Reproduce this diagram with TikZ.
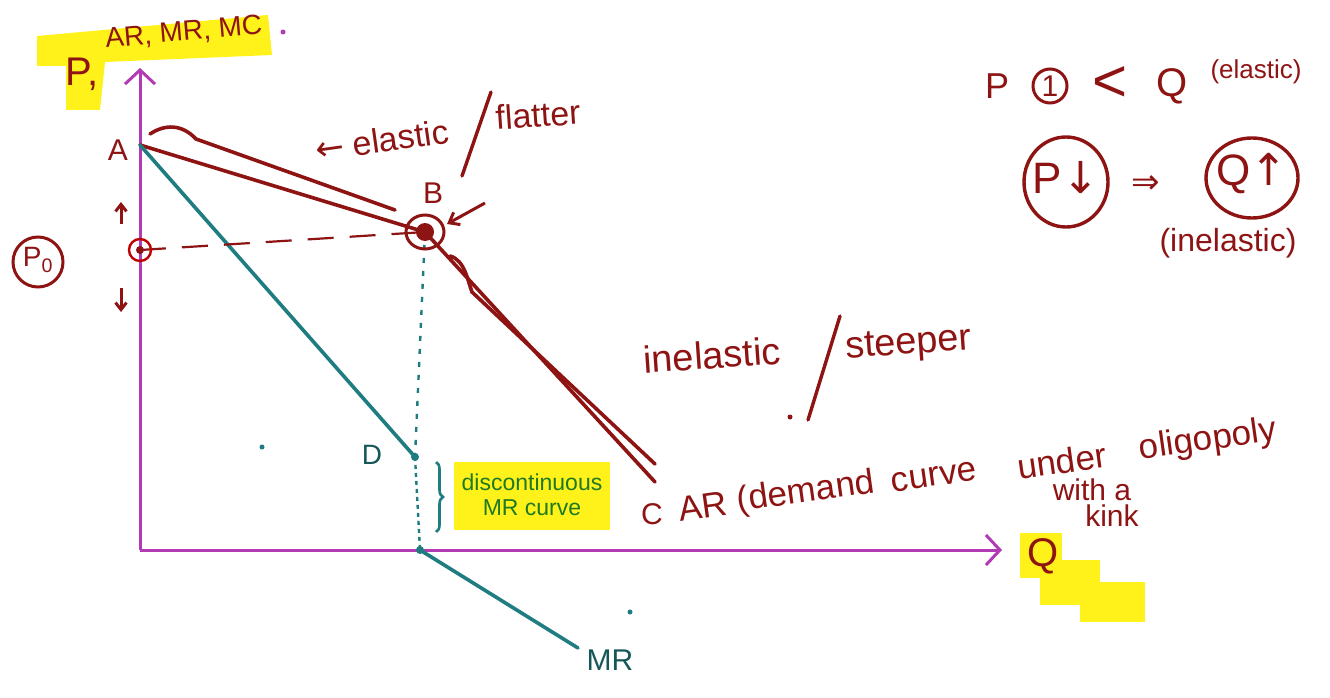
\documentclass[tikz,border=0pt]{standalone}
\usepackage{fontspec}
\setmainfont{Liberation Sans}
\newfontfamily\symf{DejaVu Sans}
\usetikzlibrary{arrows.meta,decorations.pathreplacing}
\definecolor{dred}{HTML}{8E1414}
\definecolor{teal2}{HTML}{1F7C80}
\definecolor{mag}{HTML}{B23AB4}
\definecolor{hyel}{HTML}{FFF21A}
\definecolor{gtext}{HTML}{1E7A22}
\tikzset{
  axis/.style={draw=mag,line width=3pt,-{Straight Barb[length=14pt,width=30pt,line width=3pt]}},
  arline/.style={draw=dred,line width=3.6pt,line cap=round},
  mrline/.style={draw=teal2,line width=3.6pt,line cap=round},
  hand/.style={text=dred,font=\fontsize{30}{32}\selectfont},
  bigword/.style={hand,font=\fontsize{35}{37}\selectfont,inner sep=0pt,rotate=8},
  dot/.style={circle,fill=#1,inner sep=0pt,minimum size=8pt},
}
\begin{document}
\begin{tikzpicture}[x=1pt,y=-1pt]
\useasboundingbox (0,0) rectangle (1330,698);
% highlights
\fill[hyel] (37,36) -- (268,15) -- (272,55) -- (105,62) -- (100,110) -- (66,110) -- (66,66) -- (37,66) -- cycle;
\fill[hyel] (1020,533) rectangle (1062,578);
\fill[hyel] (1040,560) rectangle (1100,605);
\fill[hyel] (1080,582) rectangle (1145,622);
\fill[hyel] (454,462) rectangle (610,530);
% coordinates
\coordinate (O) at (140,550);
\coordinate (Ytop) at (140,68);
\coordinate (Xend) at (1002,550);
\coordinate (A) at (140,145);
\coordinate (B) at (425,232);
\coordinate (C) at (655,482);
\coordinate (D) at (415,457);
\coordinate (E) at (420,550);
\coordinate (MRend) at (578,648);
\coordinate (P0) at (140,250);
% axes
\draw[axis] (O) -- (Ytop);
\draw[axis] (O) -- (Xend);
% AR curve (kinked)
\draw[arline] (A) -- (B) -- (C);
\draw[arline] (150,134) .. controls (165,124) and (182,124) .. (196,139) -- (395,210);
\draw[arline] (450,256) .. controls (465,260) and (468,282) .. (472,292) -- (655,464);
% MR
\draw[mrline] (A) -- (D);
\draw[mrline] (E) -- (MRend);
\draw[teal2,line width=2.4pt,dash pattern=on 5pt off 8pt] (B) -- (D);
\draw[teal2,line width=2.4pt,dash pattern=on 4pt off 4pt] (D) -- (E);
\node[dot=teal2] (Dd) at (D) {};
\node[dot=teal2] (Ed) at (E) {};
% dashed price line
\draw[dred,line width=2.2pt,dash pattern=on 26pt off 16pt] (P0) -- (B);
% B marking
\node[dot=dred,minimum size=18pt] (Bd) at (B) {};
\draw[dred,line width=3pt] (B) ellipse (19pt and 17pt);
\node[hand] (Blab) at (433,193) {B};
\draw[dred,line width=3pt,-{Straight Barb[length=9pt,width=14pt]}] (485,203) -- (447,224);
% P0 marking
\draw[red!75!black,line width=2.4pt] (P0) circle (11pt);
\node[dot=dred] (P0d) at (P0) {};
\draw[dred,line width=3pt,-{Straight Barb[length=7pt,width=11pt]}] (121,224) -- (121,202);
\draw[dred,line width=3pt,-{Straight Barb[length=7pt,width=11pt]}] (121,288) -- (121,312);
\draw[dred,line width=3pt] (38,262) circle (25pt);
\node[hand,font=\fontsize{28}{30}\selectfont] (P0lab) at (38,260) {P\textsubscript{0}};
% labels
\node[hand] (Alab) at (118,150) {A};
\node[hand] (Clab) at (652,514) {C};
\node[text=teal2!70!black,font=\fontsize{28}{30}\selectfont] (Dlab) at (372,455) {D};
\node[text=teal2!70!black,font=\fontsize{30}{32}\selectfont] (MRlab) at (610,660) {MR};
\node[hand,font=\fontsize{40}{42}\selectfont,anchor=west] (Ylab) at (62,74) {P,};
\node[hand,font=\fontsize{28}{30}\selectfont,anchor=west,rotate=5] (Ylab2) at (102,40) {AR, MR, MC};
\node[circle,fill=mag,inner sep=0pt,minimum size=5pt] (ydot) at (283,32) {};
\node[hand,font=\fontsize{40}{42}\selectfont] (Qlab) at (1043,556) {Q};
% elastic / flatter
\node[hand,anchor=west,rotate=8,font=\fontsize{34}{36}\selectfont] (el) at (312,150) {{\symf ←} elastic};
\draw[dred,line width=3.4pt,line cap=round] (462,176) -- (491,92);
\node[hand,anchor=west,rotate=4,font=\fontsize{34}{36}\selectfont] (fl) at (492,118) {flatter};
% inelastic / steeper
\node[hand,anchor=west,rotate=4,font=\fontsize{38}{40}\selectfont] (inel) at (640,360) {inelastic};
\draw[dred,line width=3.4pt,line cap=round] (840,316) -- (808,420);
\node[hand,anchor=west,rotate=4,font=\fontsize{38}{40}\selectfont] (steep) at (842,350) {steeper};
% AR demand curve text, word by word along a rising line
\node[bigword] (w1) at (703,506) {AR};
\node[bigword] (w2) at (806,493) {(demand};
\node[bigword] (w3) at (934,477) {curve};
\node[bigword] (w4) at (1062,461) {under};
\node[bigword] (w5) at (1208,441) {oligopoly};
\node[hand,font=\fontsize{30}{32}\selectfont] (with) at (1092,490) {with a};
\node[hand,font=\fontsize{30}{32}\selectfont] (kink) at (1112,516) {kink};
% discontinuous MR
\draw[teal2,line width=2.6pt,decorate,decoration={brace,amplitude=7pt}] (436,462) -- (436,532);
\node[text=gtext,font=\fontsize{23}{25}\selectfont,align=center] (disc) at (532,495) {discontinuous\\MR curve};
% top right
\node[hand,font=\fontsize{36}{38}\selectfont] (p1) at (997,86) {P};
\draw[dred,line width=3pt] (1050,86) circle (17pt);
\node[hand] (one) at (1050,86) {1};
\node[hand,font=\fontsize{60}{62}\selectfont] (lt) at (1110,84) {<};
\node[hand,font=\fontsize{40}{42}\selectfont] (q1) at (1172,86) {Q};
\node[hand,font=\fontsize{26}{28}\selectfont] (elas) at (1256,72) {(elastic)};
\draw[dred,line width=3.4pt] (1066,182) ellipse (42pt and 45pt);
\node[hand,font=\fontsize{44}{46}\selectfont] (Pd) at (1066,178) {P{\symf ↓}};
\draw[dred,line width=3.4pt] (1252,178) ellipse (46pt and 40pt);
\node[hand,font=\fontsize{44}{46}\selectfont] (Qu) at (1252,174) {Q{\symf ↑}};
\node[hand,font=\fontsize{34}{36}\selectfont] (imp) at (1146,185) {\symf ⇒};
\node[hand,font=\fontsize{32}{34}\selectfont] (inel2) at (1228,243) {(inelastic)};
% stray dots
\node[dot=teal2,minimum size=5pt] (s1) at (262,447) {};
\node[dot=teal2,minimum size=5pt] (s2) at (630,612) {};
\node[dot=dred,minimum size=5pt] (s3) at (790,417) {};
\end{tikzpicture}
\end{document}
